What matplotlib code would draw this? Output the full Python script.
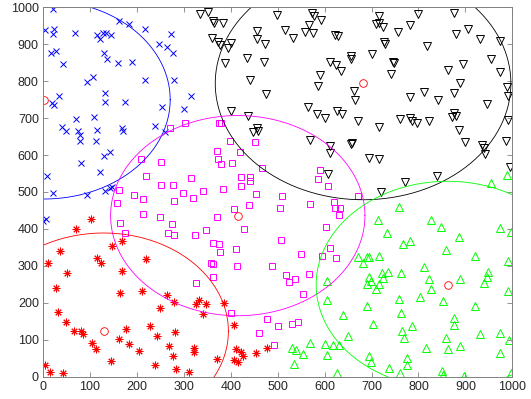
import numpy as np
import matplotlib
matplotlib.use("Agg")
import matplotlib.pyplot as plt

# cluster points
blue_x = [21, 4, 24, 21, 68, 114, 122, 127, 134, 144, 161, 183, 218, 272, 247, 264, 276, 17, 27, 43,
          129, 136, 160, 189, 93, 107, 218, 279, 34, 19, 24, 132, 132, 174, 253, 301, 316, 70, 109, 239,
          40, 49, 75, 79, 78, 114, 113, 168, 170, 260, 143, 130, 82, 122, 9, 22, 93, 132, 143, 148, 1, 6]
blue_y = [995, 939, 940, 927, 931, 925, 913, 930, 930, 925, 963, 955, 940, 928, 900, 892, 877, 877, 883, 846,
          875, 859, 850, 852, 798, 810, 803, 802, 761, 741, 736, 767, 744, 743, 731, 724, 760, 698, 704, 680,
          677, 665, 665, 654, 638, 668, 639, 674, 665, 663, 609, 598, 579, 555, 542, 496, 492, 504, 512, 514, 422, 426]

black_x = [335, 352, 362, 364, 383, 360, 372, 377, 395, 400, 387, 434, 456, 456, 473, 471, 498, 515, 532, 559,
           567, 576, 573, 578, 593, 623, 628, 657, 657, 611, 624, 635, 591, 587, 441, 475, 663, 664, 564, 583,
           600, 626, 637, 672, 400, 436, 448, 456, 459,
           717, 710, 717, 724, 782, 800, 876, 756, 726, 729, 701, 746, 748, 741, 818, 881, 905, 932, 974, 955,
           895, 862, 973, 889, 876, 811, 782, 841, 947, 988, 990, 715, 761, 781, 786, 797, 823, 875, 881, 871,
           886, 990,
           658, 694, 717, 772, 840, 900, 935, 939, 942, 986, 996, 721, 569, 612, 612, 657, 608]
black_y = [982, 988, 964, 957, 957, 918, 907, 898, 891, 904, 850, 862, 937, 913, 901, 851, 979, 939, 916, 934,
           952, 930, 984, 976, 966, 925, 922, 868, 859, 852, 844, 828, 817, 787, 803, 765, 774, 749, 729, 710,
           700, 718, 710, 693, 718, 707, 663, 672, 666,
           977, 955, 958, 948, 952, 982, 984, 932, 907, 900, 874, 853, 850, 820, 895, 927, 941, 913, 910, 859,
           847, 830, 825, 796, 769, 772, 758, 749, 738, 783, 760, 677, 697, 700, 693, 688, 693, 713, 707, 702,
           668, 695,
           632, 591, 589, 526, 544, 634, 627, 620, 602, 638, 567, 501, 641, 624, 605, 629, 548]

mag_x = [303, 271, 374, 379,
         208, 252, 220, 251, 276, 316, 161, 194, 214, 298, 319, 279, 158, 212, 250, 164, 274, 175, 266, 279, 323,
         399, 452, 370, 372, 379, 402, 420, 466, 421, 441, 441, 421, 384, 340, 453, 509, 438, 406, 504, 568,
         591, 587, 607, 619, 622, 633, 631, 370, 347, 429, 603, 672, 363, 376, 377, 411, 507, 612, 550,
         594, 624, 358, 363, 413, 362, 326, 488, 517, 525, 536, 566, 553, 401, 477, 500, 461, 530, 544, 493]
mag_y = [686, 674, 686, 686,
         589, 580, 544, 519, 519, 537, 505, 492, 481, 498, 485, 476, 469, 440, 431, 417, 413, 388, 388, 384, 384,
         639, 634, 612, 588, 575, 579, 609, 566, 540, 540, 531, 517, 508, 504, 495, 489, 465, 454, 458, 468,
         560, 534, 516, 474, 458, 458, 438, 432, 397, 400, 406, 489, 361, 359, 338, 346, 370, 349, 331,
         328, 322, 308, 304, 301, 270, 255, 301, 275, 257, 264, 277, 223, 173, 155, 138, 119, 142, 149, 86]

red_x = [102, 70, 146, 169,
         36, 11, 114, 123, 51, 220, 169, 28, 163, 210, 265, 279, 31, 48, 65, 80, 85, 104, 112, 145, 161, 176,
         183, 205, 227, 242, 250, 282, 269, 277, 239, 283, 312, 322, 322, 326, 333, 4, 15, 43,
         348, 340, 385, 406, 370, 411, 421, 427, 406, 416, 453, 477]
red_y = [426, 399, 355, 366,
         340, 307, 320, 309, 280, 318, 287, 239, 226, 232, 221, 201, 174, 147, 124, 125, 115, 90, 75, 42, 102, 129,
         88, 70, 137, 110, 185, 122, 83, 56, 32, 20, 14, 79, 68, 196, 208, 32, 14, 9,
         196, 170, 200, 140, 47, 74, 68, 56, 45, 41, 65, 79]

green_x = [988, 955, 759, 713, 827, 847, 734, 886, 974, 998, 768, 781, 859,
           672, 690, 694, 682, 715, 921, 990, 812, 722, 736, 763, 695, 699, 690, 717, 724, 710, 823, 827, 888,
           949, 946, 939, 990, 758, 804, 852, 690, 763, 921, 704, 764, 786, 769, 876, 875, 859, 817, 862, 888,
           932, 974, 992, 973, 694, 699, 775, 776, 738, 761, 851, 853, 896, 998,
           606, 605, 640, 649, 569, 600, 618, 630, 530, 539, 555, 605, 534, 626]
green_y = [546, 525, 459, 424, 424, 406, 390, 377, 402, 391, 359, 368, 343,
           323, 325, 323, 309, 328, 327, 314, 298, 282, 284, 280, 271, 260, 250, 251, 266, 237, 264, 237, 264,
           284, 271, 253, 233, 209, 217, 206, 191, 173, 191, 143, 124, 137, 106, 158, 140, 106, 79, 74, 84,
           115, 117, 98, 63, 57, 41, 50, 33, 23, 9, 15, 5, 2, 11,
           260, 208, 167, 111, 92, 88, 86, 86, 77, 72, 61, 59, 34, 11]

# cluster centres and circle radii
cent_x = [2, 682, 415, 129, 862]
cent_y = [750, 794, 436, 123, 249]
radius = [269, 315, 271, 266, 280]
circ_colors = ["#0000ff", "#000000", "#ff00ff", "#ff0000", "#00ff00"]

plt.rcParams['font.family'] = ['Liberation Sans', 'DejaVu Sans']

fig = plt.figure(figsize=(5.31, 3.99), dpi=100)
ax = fig.add_axes([0.081, 0.0559, 0.8838, 0.9258])

mew = 0.7
ax.plot(blue_x, blue_y, 'x', color='#0000ff', ms=4.5, mew=mew)
ax.plot(black_x, black_y, 'v', mfc='none', mec='#000000', ms=5.8, mew=mew)
ax.plot(mag_x, mag_y, 's', mfc='none', mec='#ff00ff', ms=4.8, mew=mew)
ax.plot(red_x, red_y, marker=(8, 2, 0), ls='none', color='#ff0000', ms=5.5, mew=mew)
ax.plot(green_x, green_y, '^', mfc='none', mec='#00ff00', ms=5.8, mew=mew)

t = np.linspace(0, 2 * np.pi, 400)
for cx, cy, r, c in zip(cent_x, cent_y, radius, circ_colors):
    ax.plot(cx + r * np.cos(t), cy + r * np.sin(t), '-', color=c, lw=0.6)
ax.plot(cent_x, cent_y, 'o', mfc='none', mec='#ff0000', ms=5.5, mew=0.6)

ax.set_xlim(0, 1000)
ax.set_ylim(0, 1000)
ax.set_xticks(np.arange(0, 1001, 100))
ax.set_yticks(np.arange(0, 1001, 100))
ax.tick_params(direction='in', length=3.5, width=0.6, top=True, right=True,
               labelsize=9, colors='#808080', labelcolor='#262626', pad=3)
for s in ax.spines.values():
    s.set_color('#808080')
    s.set_linewidth(0.7)

fig.savefig("out.png", dpi=100)
